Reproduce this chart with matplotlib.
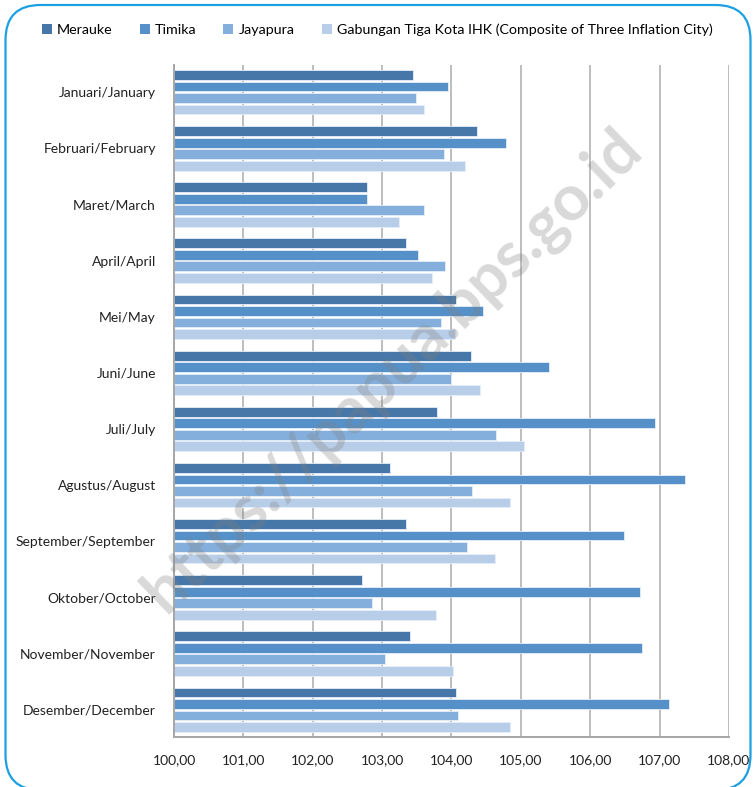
import numpy as np
import matplotlib
matplotlib.use('Agg')
from matplotlib import pyplot as plt
from matplotlib.patches import FancyBboxPatch, Patch
from matplotlib.ticker import FuncFormatter


#(0) Data (IHK per bulan):
months   = ['Januari/January', 'Februari/February', 'Maret/March', 'April/April',
            'Mei/May', 'Juni/June', 'Juli/July', 'Agustus/August',
            'September/September', 'Oktober/October', 'November/November',
            'Desember/December']
series   = ['Merauke', 'Timika', 'Jayapura',
            'Gabungan Tiga Kota IHK (Composite of Three Inflation City)']
merauke  = [103.44, 104.37, 102.78, 103.35, 104.07, 104.28, 103.79, 103.12, 103.35, 102.71, 103.40, 104.07]
timika   = [103.95, 104.79, 102.78, 103.51, 104.46, 105.41, 106.94, 107.36, 106.48, 106.72, 106.75, 107.14]
jayapura = [103.49, 103.89, 103.61, 103.91, 103.85, 104.00, 104.64, 104.30, 104.22, 102.86, 103.04, 104.09]
gabungan = [103.60, 104.20, 103.25, 103.72, 104.05, 104.41, 105.05, 104.84, 104.63, 103.78, 104.02, 104.84]
xticks   = np.arange(100, 109, 1)


#(1) Plot:
plt.rcParams['font.family'] = ['Lato', 'DejaVu Sans']
fig   = plt.figure(figsize=(7.54, 7.87), dpi=100)
ax    = fig.add_axes([0.2308, 0.0635, 0.736, 0.854])

colors = ['#4677a8', '#5591c8', '#84aedb', '#b8cee8']
data   = [merauke, timika, jayapura, gabungan]
y      = np.arange(len(months))
pitch  = 0.205
for k, (vals, c) in enumerate(zip(data, colors)):
	off  = (k - 1.5) * pitch
	w    = np.array(vals) - 100
	ax.barh(y + off, w, left=100, height=0.175, color=c, edgecolor='#e6eef8', lw=0.6, zorder=2)

ax.set_xlim(100, 108)
ax.set_ylim(11.486, -0.486)
ax.set_xticks(xticks)
ax.xaxis.set_major_formatter(FuncFormatter(lambda v, p: f'{v:.2f}'.replace('.', ',')))
ax.set_yticks(y)
ax.set_yticklabels(months)
ax.tick_params(axis='x', length=0, pad=12, labelsize=10, colors='#222222')
ax.tick_params(axis='y', length=0, pad=13, labelsize=10, colors='#222222')
ax.grid(axis='x', color='#bdbdbd', lw=1.4, zorder=0)
for s in ['top', 'right']:
	ax.spines[s].set_visible(False)
ax.spines['left'].set_color('#a6a6a6')
ax.spines['bottom'].set_color('#a6a6a6')
ax.spines['left'].set_linewidth(1.4)
ax.spines['bottom'].set_linewidth(1.4)

#legend:
handles = [Patch(facecolor=c, edgecolor='none') for c in colors]
fig.legend(handles, series, loc='center', bbox_to_anchor=(0.5, 1 - 30/787), ncol=4,
           frameon=False, fontsize=10.3, handlelength=0.7, handleheight=0.7,
           handletextpad=0.35, columnspacing=1.9)

#watermark:
fig.text(392/754, 1 - 370/787, 'https://papua.bps.go.id', fontsize=46, fontweight='bold',
         color='#808080', alpha=0.3, rotation=44, ha='center', va='center', zorder=10)

#rounded border:
box = FancyBboxPatch((0.055, -0.03), 7.45, 7.85, boxstyle='round,pad=0,rounding_size=0.35',
                     transform=fig.dpi_scale_trans, facecolor='none', edgecolor='#1ba1e2', lw=1.6)
fig.patches.append(box)

plt.savefig('out.png', dpi=100)
